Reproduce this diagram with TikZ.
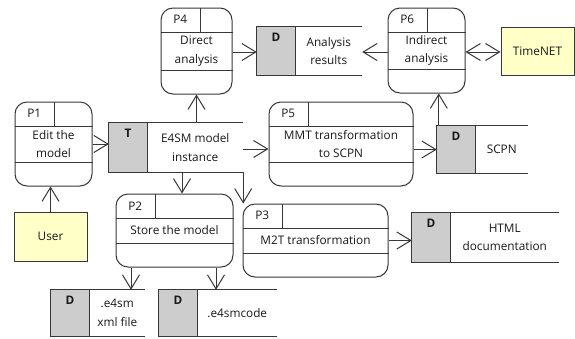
\documentclass[tikz,border=0pt]{standalone}
\usepackage{fontspec}
\setmainfont{Open Sans}
\usetikzlibrary{arrows.meta,calc}
\definecolor{ln}{RGB}{55,55,55}
\definecolor{sgray}{RGB}{205,205,205}
\definecolor{extc}{RGB}{255,255,200}
\definecolor{txt}{RGB}{25,25,25}
\newcommand\fsz{\fontsize{11.8}{18.5}\selectfont}
\tikzset{
  x=1pt, y=-1pt,
  every node/.style={font=\fsz, text=txt, inner sep=0pt},
  lne/.style={draw=ln, line width=1pt},
  proc/.style={draw=ln, line width=1pt, rounded corners=12pt, fill=white},
  storebox/.style={draw=none},
  extbox/.style={draw=ln, line width=1pt, fill=extc},
  arr/.style={lne, -{Straight Barb[length=14pt,width=17pt]}},
  darr/.style={lne, {Straight Barb[length=14pt,width=17pt]}-{Straight Barb[length=14pt,width=17pt]}},
}
\newcommand\mkproc[7]{%
  \pgfmathsetmacro\pw{#4-#2}\pgfmathsetmacro\ph{#5-#3}%
  \node[proc, minimum width=\pw pt, minimum height=\ph pt] (#1) at ({(#2+#4)/2},{(#3+#5)/2}) {};
  \draw[lne] ([yshift=-24.5pt]#1.north west) -- ([yshift=-24.5pt]#1.north east);
  \draw[lne] ([yshift=24.5pt]#1.south west) -- ([yshift=24.5pt]#1.south east);
  \draw[lne] ([xshift=39.5pt]#1.north west) -- ([xshift=39.5pt,yshift=-24.5pt]#1.north west);
  \node (#1id) at ([xshift=19.75pt,yshift=-12.25pt]#1.north west) {#6};
  \node[align=center] (#1txt) at (#1.center) {#7};
}
\newcommand\mkstore[7]{%
  \pgfmathsetmacro\pw{#4-#2}\pgfmathsetmacro\ph{#5-#3}%
  \node[storebox, minimum width=\pw pt, minimum height=\ph pt] (#1) at ({(#2+#4)/2},{(#3+#5)/2}) {};
  \fill[sgray] (#1.north west) rectangle ([xshift=38.5pt]#1.south west);
  \draw[lne] (#1.north east) -- (#1.north west) -- (#1.south west) -- (#1.south east);
  \draw[lne] ([xshift=38.5pt]#1.north west) -- ([xshift=38.5pt]#1.south west);
  \node[font=\fsz\bfseries] (#1id) at ([xshift=19.25pt,yshift=-10pt]#1.north west) {#6};
  \node[align=center] (#1txt) at ($([xshift=38.5pt]#1.north west)!0.5!(#1.south east)$) {#7};
}
\begin{document}
\begin{tikzpicture}
\fill[white] (0,0) rectangle (575,338);
\useasboundingbox (0,0) rectangle (575,338);

% processes
\mkproc{p4}{161}{8}{232}{94}{P4}{Direct\\analysis}
\mkproc{p6}{388}{8}{465}{93}{P6}{Indirect\\analysis}
\mkproc{p1}{15}{102}{92}{186}{P1}{Edit the\\model}
\mkproc{p5}{269}{102}{413}{186}{P5}{MMT transformation\\to SCPN}
\mkproc{p2}{116}{194}{233}{267}{P2}{Store the model}
\mkproc{p3}{243}{204}{388}{277}{P3}{M2T transformation}

% data stores
\mkstore{ar}{257}{27}{362}{75}{D}{Analysis\\results}
\mkstore{e4}{109}{123}{243}{172}{T}{E4SM model\\instance}
\mkstore{scpn}{437}{126}{528}{173}{D}{SCPN}
\mkstore{html}{412}{213}{559}{262}{D}{HTML\\documentation}
\mkstore{xml}{51}{290}{145}{336}{D}{.e4sm\\xml file}
\mkstore{code}{159}{290}{277}{336}{D}{.e4smcode}

% external entities
\node[extbox, minimum width=73pt, minimum height=48pt] (tn) at (537.5,51) {TimeNET};
\node[extbox, minimum width=73pt, minimum height=49pt] (user) at (50.5,236.5) {User};

% connectors
\draw[arr] (user.north) -- (user.north |- p1.south);
\draw[arr] (p1.east) -- (p1.east -| e4.west);
\draw[arr] (p4.south |- e4.north) -- (p4.south);
\draw[arr] (e4.east |- 0,149) -- (p5.west |- 0,149);
\draw[arr] ([xshift=7.5pt]p2.north |- e4.south) -- ([xshift=7.5pt]p2.north);
\draw[arr] (e4.south east) -- (e4.south east |- p3.north);
\draw[arr] (p4.east |- 0,52) -- (ar.west |- 0,52);
\draw[arr] (p6.west |- 0,52) -- (ar.east |- 0,52);
\draw[darr] (p6.east |- 0,52) -- (tn.west |- 0,52);
\draw[arr] ([xshift=2pt]scpn.north west) -- ([xshift=2pt]scpn.north west |- p6.south);
\draw[arr] (p5.east |- scpn.west) -- (scpn.west);
\draw[arr] (p3.east) -- (p3.east -| html.west);
\draw[arr] ([xshift=-43.5pt]p2.south) -- ([xshift=-43.5pt]p2.south |- xml.north);
\draw[arr] ([xshift=41.5pt]p2.south) -- ([xshift=41.5pt]p2.south |- code.north);
\end{tikzpicture}
\end{document}
